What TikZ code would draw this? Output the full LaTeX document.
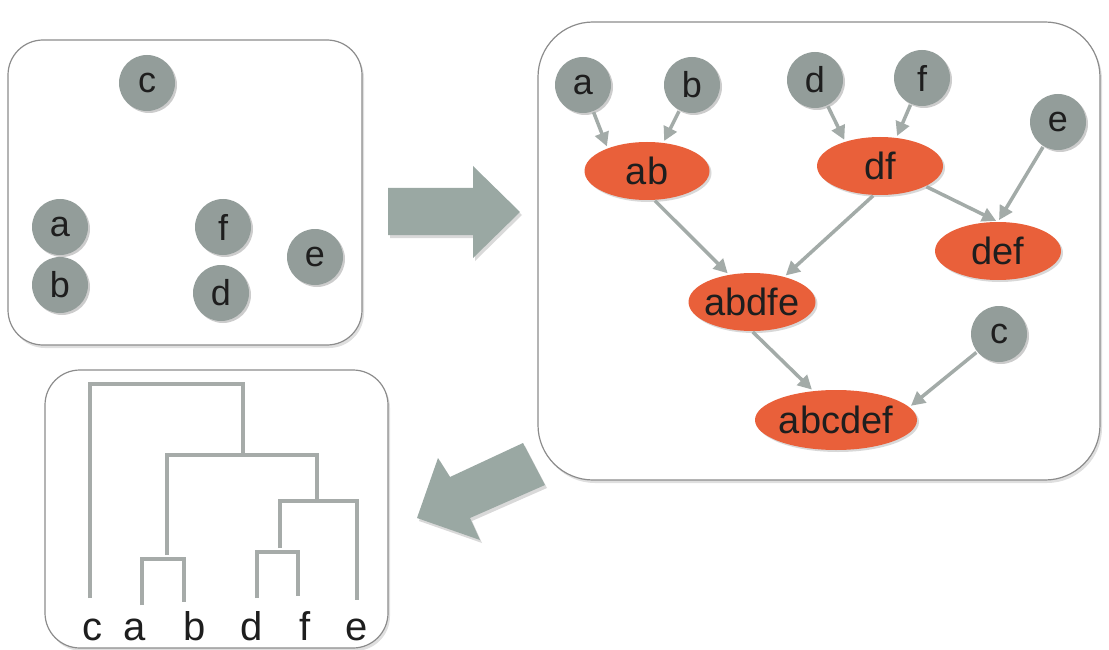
\documentclass[tikz,border=0pt]{standalone}
\usepackage{fontspec}
\setmainfont{Liberation Sans}
\usetikzlibrary{shapes.geometric,shadows,arrows.meta}
\definecolor{ballc}{HTML}{939D9A}
\definecolor{clus}{HTML}{E9603A}
\definecolor{edgec}{HTML}{A3ABA8}
\definecolor{panelc}{HTML}{8C8C8C}
\definecolor{bigarrow}{HTML}{9AA8A3}
\definecolor{dendc}{HTML}{A6ABA9}
\definecolor{inkc}{HTML}{1E1E1E}
\begin{document}
\begin{tikzpicture}[x=1pt,y=-1pt,
  ball/.style={circle, fill=ballc, minimum size=56pt, inner sep=0pt,
    text=inkc, font=\fontsize{36}{36}\selectfont,
    drop shadow={shadow xshift=2pt, shadow yshift=-2pt, opacity=0.4}},
  clusnode/.style={ellipse, fill=clus, inner sep=0pt, minimum height=58pt,
    text=inkc, font=\fontsize{38}{38}\selectfont,
    drop shadow={shadow xshift=2pt, shadow yshift=-2pt, opacity=0.3}},
  link/.style={draw=edgec, line width=3.5pt, -{Triangle[length=14pt,width=14pt]},
    shorten >=2pt, shorten <=1pt},
  panel/.style={draw=panelc, line width=1.2pt, fill=white,
    drop shadow={shadow xshift=2pt, shadow yshift=-3pt, opacity=0.25}},
  blockarrow/.style={fill=bigarrow,
    drop shadow={shadow xshift=2pt, shadow yshift=-3pt, opacity=0.3}},
  dend/.style={draw=dendc, line width=4pt},
  leaf/.style={anchor=base, text=inkc, font=\fontsize{40}{40}\selectfont}
]
\useasboundingbox (0,0) rectangle (1109,650);

% panels
\path[panel, rounded corners=35pt] (8,40) rectangle (362,345);
\path[panel, rounded corners=35pt] (45,370) rectangle (388,648);
\path[panel, rounded corners=55pt] (538,22) rectangle (1100,480);

% block arrows
\path[blockarrow] (388,188) -- (473,188) -- (473,166) -- (520,212) -- (473,258)
  -- (473,235) -- (388,235) -- cycle;
\path[blockarrow] (523,443) -- (450,477) -- (438,458) -- (417,518) -- (480,540)
  -- (470,518) -- (545,485) -- cycle;

% left panel: points
\node[ball] (lc) at (147,83) {c};
\node[ball] (la) at (60,227) {a};
\node[ball] (lb) at (60,285) {b};
\node[ball] (lf) at (223,227) {f};
\node[ball] (ld) at (221,293) {d};
\node[ball] (le) at (315,257) {e};

% right panel: merge tree
\node[ball] (a) at (583,85) {a};
\node[ball] (b) at (692,85) {b};
\node[ball] (d) at (815,80) {d};
\node[ball] (f) at (922,78) {f};
\node[ball] (e) at (1058,122) {e};
\node[ball] (c) at (999,334) {c};
\node[clusnode, minimum width=125pt] (ab) at (647,171) {\makebox[0pt]{ab}};
\node[clusnode, minimum width=126pt] (df) at (880,166) {\makebox[0pt]{df}};
\node[clusnode, minimum width=126pt] (def) at (998,251) {\makebox[0pt]{def}};
\node[clusnode, minimum width=127pt] (abdfe) at (752,302) {\makebox[0pt]{abdfe}};
\node[clusnode, minimum width=162pt, minimum height=60pt] (abcdef) at (836,420) {\makebox[0pt]{abcdef}};

\draw[link] (a) -- (ab.150);
\draw[link] (b) -- (ab.60);
\draw[link] (d) -- (df.145);
\draw[link] (f) -- (df.60);
\draw[link] (e) -- (def.north);
\draw[link] (df.-24) -- (def.north);
\draw[link] (ab.-76) -- (abdfe.130);
\draw[link] (df.-102) -- (abdfe.38);
\draw[link] (abdfe.south) -- (abcdef.128);
\draw[link] (c) -- (abcdef.10);

% dendrogram
\draw[dend] (90,598) -- (90,384) -- (243,384) -- (243,457);
\draw[dend] (167,555) -- (167,455) -- (317,455) -- (317,501);
\draw[dend] (142,605) -- (142,559) -- (184,559) -- (184,602);
\draw[dend] (280,548) -- (280,501) -- (357,501) -- (357,600);
\draw[dend] (257,598) -- (257,552) -- (298,552) -- (298,596);

\node[leaf] (tc) at (92,640) {c};
\node[leaf] (ta) at (135,640) {a};
\node[leaf] (tb) at (195,640) {b};
\node[leaf] (td) at (252,640) {d};
\node[leaf] (tf) at (305,640) {f};
\node[leaf] (te) at (357,640) {e};
\end{tikzpicture}
\end{document}
